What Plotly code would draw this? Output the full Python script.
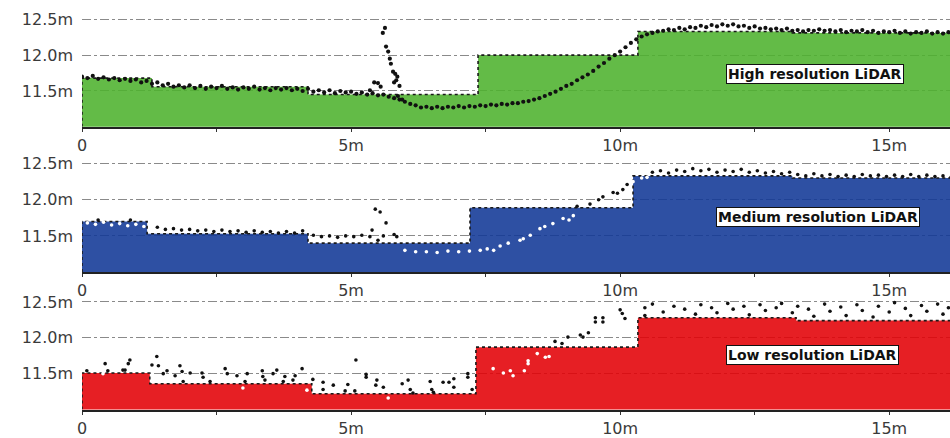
import plotly.graph_objects as go

# ---------------- data ----------------
x_tick_vals = [0, 2.5, 5, 7.5, 10, 12.5, 15]
x_tick_text = ["0", "", "5m", "", "10m", "", "15m"]
y_tick_vals = [11.5, 12.0, 12.5]
y_tick_text = ["11.5m", "12.0m", "12.5m"]

panel_labels = ["High resolution LiDAR", "Medium resolution LiDAR", "Low resolution LiDAR"]

# step surfaces (breakpoints in m, heights in m)
hi_breaks = [1.3, 4.2, 7.36, 10.33, 13.2]
hi_heights = [11.68, 11.56, 11.45, 12.00, 12.33, 12.31]
med_breaks = [1.21, 4.2, 7.21, 10.24, 13.2]
med_heights = [11.70, 11.53, 11.40, 11.89, 12.33, 12.30]
low_breaks = [1.26, 4.27, 7.32, 10.33, 13.27]
low_heights = [11.51, 11.36, 11.22, 11.87, 12.28, 12.24]

# high resolution point cloud
hi_x = [0.0, 0.1, 0.2, 0.3, 0.4, 0.5, 0.6, 0.7, 0.8, 0.9,
        1.0, 1.1, 1.2, 1.3, 1.4, 1.5, 1.6, 1.7, 1.8, 1.9,
        2.0, 2.1, 2.2, 2.3, 2.4, 2.5, 2.6, 2.7, 2.8, 2.9,
        3.0, 3.1, 3.2, 3.3, 3.4, 3.5, 3.6, 3.7, 3.8, 3.9,
        4.0, 4.1, 4.2, 4.3, 4.4, 4.5, 4.6, 4.7, 4.8, 4.9,
        5.0, 5.1, 5.2, 5.3, 5.4, 5.5, 5.6, 5.7, 5.8, 5.9,
        6.0, 6.1, 6.2, 6.3, 6.4, 6.5, 6.6, 6.7, 6.8, 6.9,
        7.0, 7.1, 7.2, 7.3, 7.4, 7.5, 7.6, 7.7, 7.8, 7.9,
        8.0, 8.1, 8.2, 8.3, 8.4, 8.5, 8.6, 8.7, 8.8, 8.9,
        9.0, 9.1, 9.2, 9.3, 9.4, 9.5, 9.6, 9.7, 9.8, 9.9,
        10.0, 10.1, 10.2, 10.3, 10.4, 10.5, 10.6, 10.7, 10.8, 10.9,
        11.0, 11.1, 11.2, 11.3, 11.4, 11.5, 11.6, 11.7, 11.8, 11.9,
        12.0, 12.1, 12.2, 12.3, 12.4, 12.5, 12.6, 12.7, 12.8, 12.9,
        13.0, 13.1, 13.2, 13.3, 13.4, 13.5, 13.6, 13.7, 13.8, 13.9,
        14.0, 14.1, 14.2, 14.3, 14.4, 14.5, 14.6, 14.7, 14.8, 14.9,
        15.0, 15.1, 15.2, 15.3, 15.4, 15.5, 15.6, 15.7, 15.8, 15.9,
        16.0, 16.1,
        5.63, 5.59, 5.65, 5.69, 5.72, 5.78, 5.82, 5.43, 5.86, 5.84,
        5.80, 5.50, 5.74, 5.35, 5.87, 5.95, 5.90, 5.55]
hi_y = [11.70, 11.68, 11.71, 11.67, 11.69, 11.66, 11.68, 11.65, 11.67, 11.64,
        11.66, 11.62, 11.64, 11.60, 11.62, 11.58, 11.60, 11.56, 11.58, 11.55,
        11.58, 11.54, 11.57, 11.53, 11.56, 11.54, 11.57, 11.53, 11.55, 11.52,
        11.55, 11.53, 11.56, 11.52, 11.54, 11.51, 11.54, 11.52, 11.54, 11.51,
        11.53, 11.50, 11.53, 11.49, 11.51, 11.48, 11.51, 11.47, 11.50, 11.48,
        11.49, 11.46, 11.48, 11.45, 11.47, 11.44, 11.45, 11.42, 11.40, 11.38,
        11.35, 11.32, 11.30, 11.27, 11.28, 11.26, 11.28, 11.26, 11.28, 11.27,
        11.29, 11.27, 11.29, 11.28, 11.30, 11.29, 11.31, 11.30, 11.32, 11.31,
        11.33, 11.33, 11.35, 11.36, 11.38, 11.40, 11.43, 11.46, 11.49, 11.53,
        11.57, 11.60, 11.65, 11.69, 11.73, 11.78, 11.84, 11.89, 11.95, 12.00,
        12.05, 12.11, 12.17, 12.22, 12.26, 12.29, 12.31, 12.33, 12.34, 12.36,
        12.35, 12.38, 12.36, 12.39, 12.38, 12.41, 12.39, 12.42, 12.40, 12.43,
        12.41, 12.43, 12.40, 12.41, 12.38, 12.40, 12.37, 12.38, 12.36, 12.37,
        12.35, 12.37, 12.34, 12.35, 12.33, 12.35, 12.34, 12.36, 12.34, 12.35,
        12.33, 12.35, 12.32, 12.34, 12.33, 12.35, 12.32, 12.34, 12.31, 12.33,
        12.32, 12.34, 12.31, 12.33, 12.30, 12.32, 12.31, 12.33, 12.30, 12.32,
        12.30, 12.32,
        12.38, 12.31, 12.12, 12.05, 11.95, 11.77, 11.74, 11.62, 11.70, 11.65,
        11.62, 11.61, 11.88, 11.51, 11.43, 11.38, 11.57, 11.56]

# medium resolution point cloud
med_x = [0.10, 0.25, 0.40, 0.55, 0.70, 0.85, 1.00, 1.15, 0.30, 0.90,
         1.40, 1.55, 1.70, 1.85, 2.00, 2.15, 2.30, 2.45, 2.60, 2.75,
         2.90, 3.05, 3.20, 3.35, 3.50, 3.65, 3.80, 3.95, 4.10,
         4.30, 4.45, 4.60, 4.75, 4.90, 5.05, 5.20, 5.35, 5.39, 5.45,
         5.54, 5.65, 5.50, 5.60, 5.80, 5.85,
         6.00, 6.20, 6.40, 6.60, 6.80, 7.00, 7.20, 7.40, 7.53, 7.65,
         7.77, 7.92, 8.14, 8.33, 8.51, 8.75, 8.94, 9.13, 9.05, 8.60, 8.20,
         9.20, 9.44, 9.60, 9.68, 9.87, 9.95, 10.13, 10.24, 10.05,
         10.40, 10.50,
         10.60, 10.75, 10.90, 11.05, 11.20, 11.35, 11.50, 11.65, 11.80, 11.95,
         12.10, 12.25, 12.40, 12.55, 12.70, 12.85, 13.00, 13.15,
         13.30, 13.45, 13.60, 13.75, 13.90, 14.05, 14.20, 14.35, 14.50, 14.65,
         14.80, 14.95, 15.10, 15.25, 15.40, 15.55, 15.70, 15.85, 16.00, 16.15]
med_y = [11.68, 11.66, 11.69, 11.65, 11.67, 11.64, 11.66, 11.63, 11.72, 11.72,
         11.62, 11.59, 11.60, 11.58, 11.59, 11.57, 11.58, 11.56, 11.58, 11.56,
         11.57, 11.55, 11.57, 11.55, 11.56, 11.54, 11.56, 11.54, 11.57,
         11.51, 11.49, 11.50, 11.48, 11.50, 11.49, 11.51, 11.49, 11.58, 11.87,
         11.83, 11.68, 11.44, 11.50, 11.52, 11.49,
         11.30, 11.28, 11.28, 11.27, 11.29, 11.28, 11.29, 11.30, 11.32, 11.30,
         11.36, 11.40, 11.44, 11.51, 11.60, 11.67, 11.74, 11.78, 11.72, 11.63, 11.46,
         11.91, 11.94, 12.00, 12.04, 12.10, 12.09, 12.21, 12.25, 12.14,
         12.30, 12.31,
         12.38, 12.40, 12.37, 12.41, 12.39, 12.43, 12.40, 12.42, 12.38, 12.41,
         12.39, 12.42, 12.38, 12.40, 12.37, 12.39, 12.36, 12.38,
         12.35, 12.33, 12.36, 12.33, 12.35, 12.32, 12.34, 12.32, 12.35, 12.33,
         12.34, 12.32, 12.34, 12.32, 12.35, 12.32, 12.34, 12.32, 12.33, 12.31]

# low resolution point cloud
low_x = [0.09, 0.43, 0.48, 0.39, 0.76, 0.86, 0.89, 0.80, 1.39, 1.30,
         1.42, 1.51, 1.58, 1.73, 1.82, 1.86, 1.88, 2.01, 2.23, 2.25,
         2.38, 2.66, 2.70, 2.88, 3.07, 3.03, 3.35, 3.36, 3.40, 3.62,
         3.55, 3.77, 3.74, 3.96, 3.92, 4.09, 2.99, 4.18,
         4.29, 4.48, 4.48, 4.67, 4.89, 4.94, 5.07, 5.09, 5.28, 5.28,
         5.48, 5.46, 5.60, 5.69, 5.95, 6.06, 6.10, 6.15, 6.47, 6.50,
         6.53, 6.71, 6.82, 6.91, 6.91, 7.17, 7.17, 7.25,
         7.64, 7.83, 7.96, 8.01, 8.22, 8.29, 8.29, 8.46, 8.61, 8.68,
         8.79, 8.92, 9.03, 9.26, 9.31, 9.41, 9.54, 9.68, 9.54, 9.68,
         10.00, 10.04, 10.09, 10.46, 10.46,
         10.60, 10.80, 11.00, 11.20, 11.40, 11.50, 11.70, 11.80, 12.00, 12.10,
         12.30, 12.40, 12.60, 12.70, 12.90, 13.00, 13.20, 13.30, 13.50, 13.60,
         13.80, 13.90, 14.10, 14.20, 14.40, 14.50, 14.70, 14.80, 15.00, 15.10,
         15.30, 15.40, 15.60, 15.70, 15.90, 16.00, 16.10]
low_y = [11.54, 11.64, 11.54, 11.50, 11.55, 11.64, 11.69, 11.55, 11.74, 11.62,
         11.61, 11.50, 11.54, 11.47, 11.61, 11.53, 11.39, 11.51, 11.51, 11.45,
         11.39, 11.57, 11.50, 11.47, 11.50, 11.39, 11.54, 11.46, 11.41, 11.55,
         11.50, 11.46, 11.39, 11.47, 11.41, 11.57, 11.30, 11.27,
         11.42, 11.38, 11.28, 11.34, 11.26, 11.35, 11.26, 11.69, 11.49, 11.45,
         11.41, 11.34, 11.31, 11.16, 11.36, 11.41, 11.28, 11.23, 11.39, 11.28,
         11.24, 11.38, 11.38, 11.43, 11.31, 11.50, 11.45, 11.28,
         11.57, 11.51, 11.54, 11.47, 11.54, 11.68, 11.64, 11.78, 11.73, 11.74,
         11.95, 11.92, 12.01, 12.04, 12.01, 12.07, 12.28, 12.28, 12.22, 12.22,
         12.39, 12.34, 12.27, 12.42, 12.31,
         12.47, 12.36, 12.44, 12.40, 12.33, 12.46, 12.42, 12.35, 12.48, 12.40,
         12.44, 12.32, 12.46, 12.38, 12.42, 12.48, 12.35, 12.44, 12.40, 12.30,
         12.47, 12.37, 12.43, 12.31, 12.46, 12.38, 12.29, 12.44, 12.36, 12.49,
         12.41, 12.31, 12.45, 12.37, 12.47, 12.33, 12.42]

X_MAX = 16.13

panels = [
    dict(breaks=hi_breaks, heights=hi_heights, px=hi_x, py=hi_y,
         fill="rgba(77,178,45,0.88)", split=False, label=panel_labels[0],
         domain=[0.7032, 0.9772], lx=13.62, ly=11.74, msize=4.2),
    dict(breaks=med_breaks, heights=med_heights, px=med_x, py=med_y,
         fill="rgba(17,56,150,0.88)", split=True, label=panel_labels[1],
         domain=[0.3607, 0.6370], lx=13.68, ly=11.76, msize=3.6),
    dict(breaks=low_breaks, heights=low_heights, px=low_x, py=low_y,
         fill="rgba(227,0,6,0.88)", split=True, label=panel_labels[2],
         domain=[0.0365, 0.3105], lx=13.57, ly=11.76, msize=3.6),
]

fig = go.Figure()
layout = {}
annotations = []
BASE = 11.0

def step_height(breaks, heights, x):
    i = 0
    while i < len(breaks) and x >= breaks[i]:
        i += 1
    return heights[i]

for i, p in enumerate(panels, start=1):
    xa = "x" if i == 1 else f"x{i}"
    ya = "y" if i == 1 else f"y{i}"
    sx = [0, 0] + p["breaks"] + [X_MAX]
    sy = [BASE] + p["heights"] + [p["heights"][-1]]
    fig.add_trace(go.Scatter(
        x=sx, y=sy, mode="lines", line_shape="hv",
        line=dict(color="#1a1a1a", width=1.6, dash="dot"),
        fill="tozeroy", fillcolor=p["fill"], xaxis=xa, yaxis=ya,
        hoverinfo="skip", showlegend=False))
    if p["split"]:
        above = [(x, y) for x, y in zip(p["px"], p["py"]) if y >= step_height(p["breaks"], p["heights"], x)]
        below = [(x, y) for x, y in zip(p["px"], p["py"]) if y < step_height(p["breaks"], p["heights"], x)]
        groups = [(above, "#111111"), (below, "#ffffff")]
    else:
        groups = [(list(zip(p["px"], p["py"])), "#111111")]
    for pts, col in groups:
        if not pts:
            continue
        fig.add_trace(go.Scatter(
            x=[a for a, _ in pts], y=[b for _, b in pts], mode="markers",
            marker=dict(color=col, size=p["msize"], line=dict(width=0)),
            xaxis=xa, yaxis=ya, hoverinfo="skip", showlegend=False))
    layout[("xaxis" if i == 1 else f"xaxis{i}")] = dict(
        domain=[0, 1], range=[0, X_MAX], anchor=ya,
        tickvals=x_tick_vals, ticktext=x_tick_text,
        ticks="outside", ticklen=3, tickcolor="#333", tickwidth=1,
        showgrid=False, zeroline=False,
        showline=True, linecolor="#222", linewidth=2,
        tickfont=dict(family="DejaVu Sans", size=16, color="#3a3a3a"))
    layout[("yaxis" if i == 1 else f"yaxis{i}")] = dict(
        domain=p["domain"], range=[BASE, 12.62], anchor=xa,
        tickvals=y_tick_vals, ticktext=y_tick_text,
        ticks="", showgrid=True, gridcolor="#8a8a8a", gridwidth=1,
        griddash="dashdot", zeroline=False, showline=False,
        ticklabelstandoff=8,
        tickfont=dict(family="DejaVu Sans", size=16, color="#3a3a3a"))
    annotations.append(dict(
        x=p["lx"], y=p["ly"], xref=xa, yref=ya, text=p["label"],
        showarrow=False, bgcolor="white", bordercolor="#111", borderwidth=1,
        borderpad=1,
        font=dict(family="DejaVu Sans", size=14, color="#111", weight="bold")))

fig.update_layout(
    width=950, height=438,
    margin=dict(l=82, r=0, t=0, b=0),
    paper_bgcolor="white", plot_bgcolor="white",
    annotations=annotations,
    **layout)

fig.write_html("out.html",
               config={"displayModeBar": False},
               post_script="document.body.style.margin='0';document.body.style.overflow='hidden';")
